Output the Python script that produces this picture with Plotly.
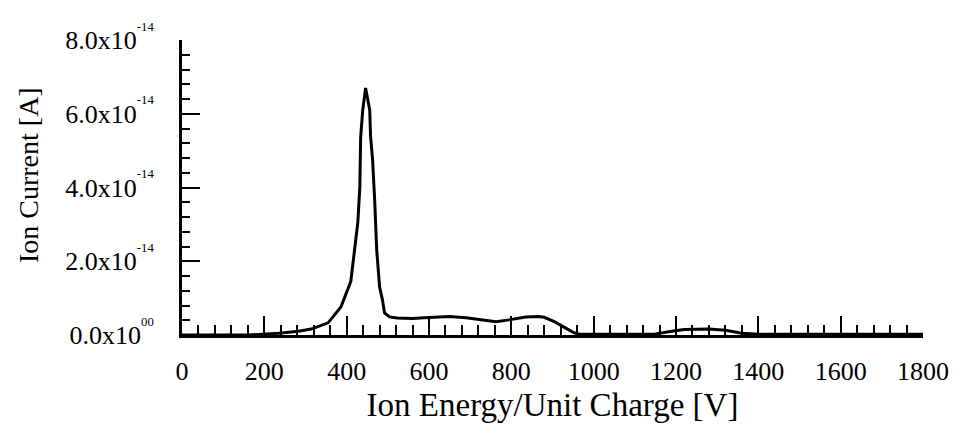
import plotly.graph_objects as go

# Ion energy per unit charge [V]
energy_v = [0, 160, 235, 283, 314, 355, 386, 410, 427, 432, 434, 439, 446,
            451, 456, 458, 463, 468, 470, 473, 480, 487, 492, 504, 523, 560,
            588, 620, 650, 690, 732, 763, 794, 835, 865, 880, 907, 931, 950,
            965, 1000, 1100, 1150, 1190, 1220, 1280, 1320, 1360, 1400, 1800]
# Ion current [A]
current_a = [v * 1e-14 for v in
             [0, 0, 0.05, 0.10, 0.16, 0.33, 0.76, 1.45, 3.04, 4.01, 5.37, 6.10, 6.70,
              6.37, 6.10, 5.40, 4.75, 3.66, 2.85, 2.30, 1.30, 0.95, 0.60, 0.49, 0.46, 0.45,
              0.47, 0.49, 0.50, 0.47, 0.41, 0.36, 0.41, 0.49, 0.50, 0.48, 0.35, 0.20, 0.07,
              0.02, 0.02, 0.02, 0.03, 0.10, 0.15, 0.16, 0.13, 0.05, 0.02, 0.02]]

y_tickvals = [0, 2e-14, 4e-14, 6e-14, 8e-14]
y_ticktext = ["0.0x10<sup><sup>00</sup></sup>", "2.0x10<sup><sup>-14</sup></sup>",
              "4.0x10<sup><sup>-14</sup></sup>", "6.0x10<sup><sup>-14</sup></sup>",
              "8.0x10<sup><sup>-14</sup></sup>"]
x_tickvals = [0, 200, 400, 600, 800, 1000, 1200, 1400, 1600, 1800]

FONT = "Liberation Serif, Times New Roman, serif"

L, R, T, B = 182, 33, 40, 102
W, H = 961, 437
plot_w = W - L - R
plot_h = H - T - B

fig = go.Figure()
fig.add_trace(go.Scatter(x=energy_v, y=current_a, mode="lines",
                         line=dict(color="black", width=3), showlegend=False))

fig.update_layout(
    width=W, height=H,
    margin=dict(l=L, r=R, t=T, b=B),
    paper_bgcolor="white", plot_bgcolor="white",
    font=dict(family=FONT, color="black", size=24),
    xaxis=dict(range=[0, 1800], tickvals=x_tickvals, showgrid=False, zeroline=False,
               showline=True, linecolor="black", linewidth=3,
               ticks="inside", ticklen=19, tickwidth=2, tickcolor="black",
               minor=dict(ticks="inside", dtick=40, ticklen=10, tickwidth=2, tickcolor="black"),
               ticklabelstandoff=11, tickfont=dict(size=26),
               title=dict(text="Ion Energy/Unit Charge [V]", font=dict(size=33), standoff=8)),
    yaxis=dict(range=[0, 8e-14], tickvals=y_tickvals, ticktext=y_ticktext,
               showgrid=False, zeroline=False,
               showline=True, linecolor="black", linewidth=3,
               ticks="inside", ticklen=18, tickwidth=2, tickcolor="black",
               minor=dict(ticks="inside", dtick=0.4e-14, ticklen=8, tickwidth=2, tickcolor="black"),
               ticklabelstandoff=20, tickfont=dict(size=26)),
    annotations=[dict(text="Ion Current [A]", textangle=-90, showarrow=False,
                      xref="paper", yref="paper",
                      x=(27 - L) / plot_w, y=(H - B - 175) / plot_h,
                      xanchor="center", yanchor="middle",
                      font=dict(size=28, family=FONT, color="black"))],
)

fig.write_html("out.html")
